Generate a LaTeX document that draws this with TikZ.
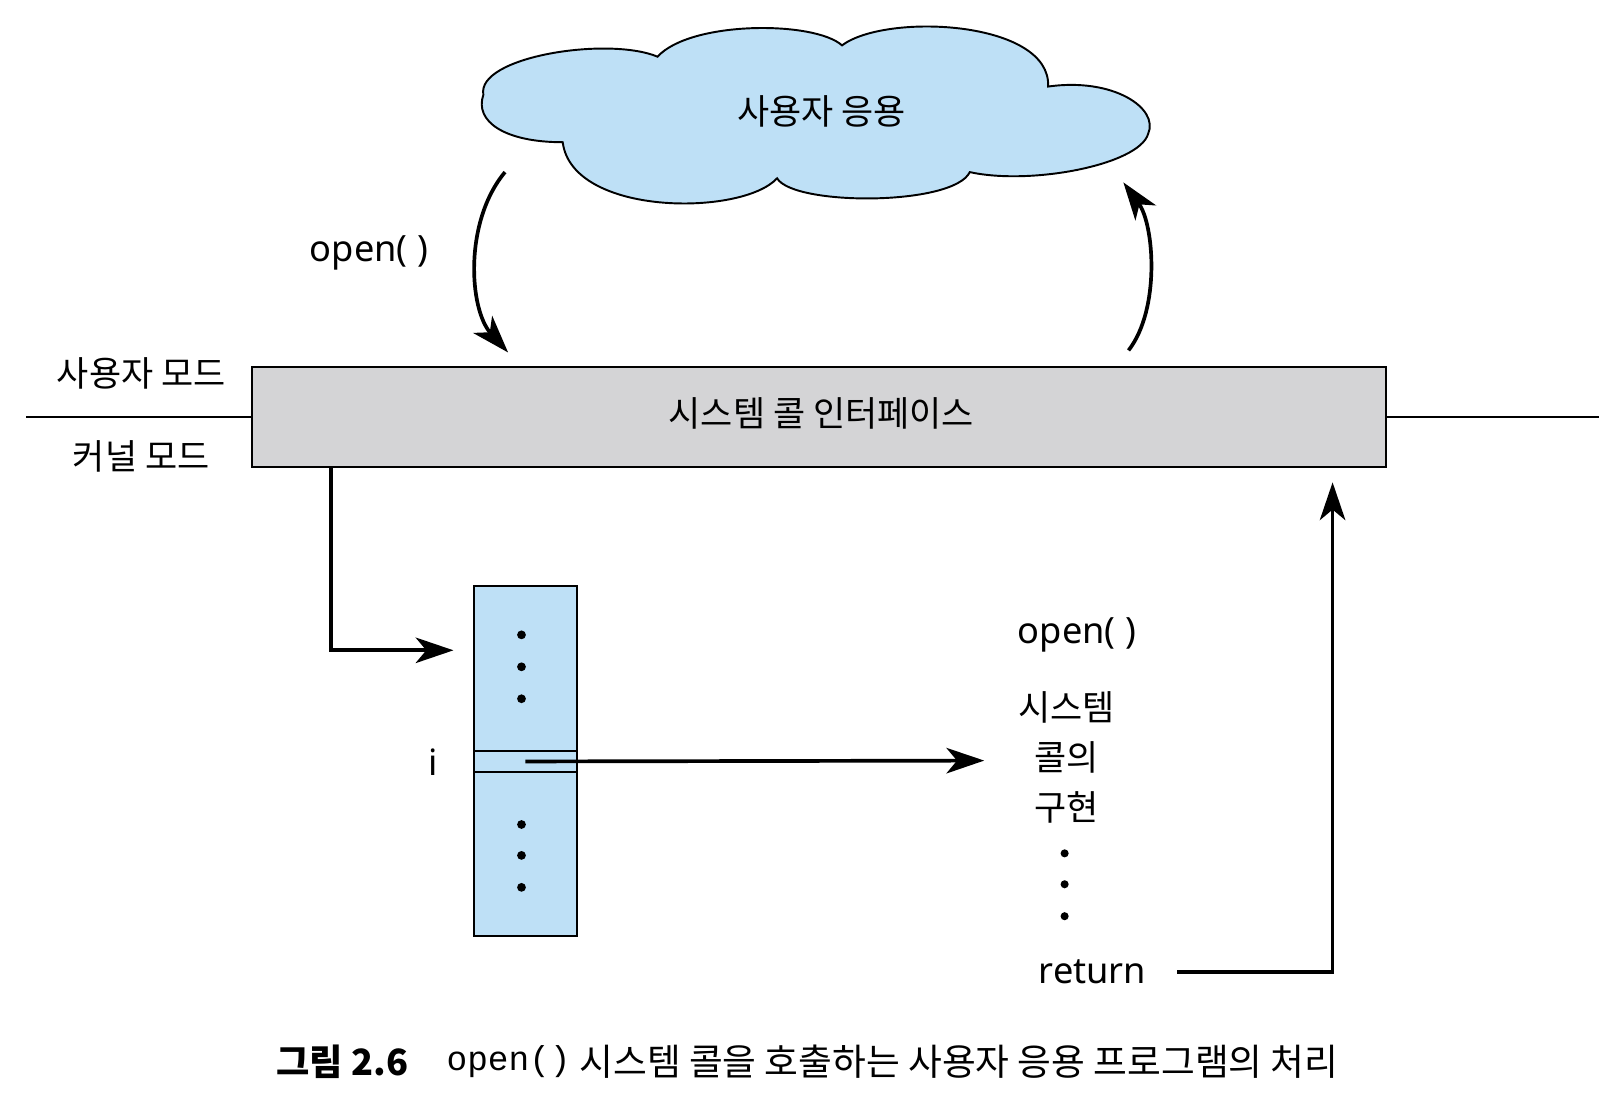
\documentclass[tikz,border=0pt]{standalone}
\usepackage{fontspec}
\setmainfont{Noto Sans}
\newfontfamily\kr{Noto Sans CJK KR}
\newfontfamily\mono{Liberation Mono}
\usetikzlibrary{arrows.meta,calc}
\definecolor{cloudblue}{RGB}{190,224,246}
\definecolor{tblblue}{RGB}{190,224,246}
\definecolor{bargray}{RGB}{212,212,214}
\begin{document}
\begin{tikzpicture}[x=0.020612cm,y=-0.020612cm,
  arr/.style={line width=2.1pt, -{Stealth[length=21.5pt,width=14.5pt,inset=6pt]}},
  thinline/.style={line width=1pt},
  krlab/.style={font=\kr\fontsize{19.9pt}{23pt}\selectfont, inner sep=0pt},
  latlab/.style={font=\fontsize{20.6pt}{24pt}\selectfont, inner sep=0pt},
  dotmark/.style={circle, fill=black, inner sep=0pt, minimum size=5pt}]
\useasboundingbox (0,0) rectangle (1568,1079);
\fill[white] (0,0) rectangle (1568,1079);

% cloud
\draw[fill=cloudblue, line width=1.1pt]
  (469,92) .. controls (462,55) and (590,35) .. (638,55)
  .. controls (670,20) and (790,20) .. (817,44)
  .. controls (860,12) and (1020,20) .. (1017,84)
  .. controls (1080,75) and (1125,105) .. (1114,130)
  .. controls (1105,160) and (1000,180) .. (941,167)
  .. controls (925,200) and (770,200) .. (754,173)
  .. controls (720,210) and (555,210) .. (546,138)
  .. controls (490,138) and (460,118) .. (469,92) -- cycle;
\node[krlab] (app) at (797,108) {사용자 응용};

% system call interface bar
\node[draw, line width=1pt, fill=bargray, minimum width=22.67cm, minimum height=2.0cm,
  anchor=north west, inner sep=0pt] (bar) at (244,355) {};
\node[krlab] (bartext) at (797,401) {시스템 콜 인터페이스};
\draw[thinline] (bar.west) -- ++(-219,0);
\draw[thinline] (bar.east) -- ++(206,0);
\node[krlab] (umode) at (137,362) {사용자 모드};
\node[krlab] (kmode) at (137,443) {커널 모드};

% curved arrows
\coordinate (c1s) at (490,167);
\coordinate (c1e) at (493,342);
\draw[arr] (c1s) .. controls (450,215) and (455,300) .. (c1e);
\node[latlab] (openlab) at (358,245) {open( )};
\coordinate (c2s) at (1095,340);
\coordinate (c2e) at (1090,177);
\draw[arr] (c2s) .. controls (1126,300) and (1120,218) .. (c2e);

% table
\node[draw, line width=1pt, fill=tblblue, minimum width=2.061cm, minimum height=6.988cm,
  anchor=north west, inner sep=0pt] (tbl) at (459,568) {};
\node[draw, line width=1pt, minimum width=2.061cm, minimum height=0.412cm,
  anchor=north west, inner sep=0pt] (row) at (459,728) {};
\foreach \yy in {616,647,678,800,830,861} \node[dotmark] at (506,\yy) {};
\node[latlab] (ilab) at (420,740) {i};
\coordinate (tblin) at (440,631);
\draw[arr] ($(bar.south west)+(77,0)$) |- (tblin);

% implementation
\node[latlab] (open2) at (1045,616) {open( )};
\node[krlab] (impl1) at (1035,686) {시스템};
\node[krlab] (impl2) at (1035,735) {콜의};
\node[krlab] (impl3) at (1035,783) {구현};
\foreach \yy in {828,858,889} \node[dotmark, minimum size=4.6pt] at (1033,\yy) {};
\node[latlab] (ret) at (1060,943) {return};
\coordinate (impl) at (955,738);
\draw[arr] (row.center) -- (impl);
\coordinate (rettip) at (1293,468);
\draw[arr] ($(ret.east)+(30,0)$) -| (rettip);

% caption
\node[font=\kr\bfseries\fontsize{20.6pt}{24pt}\selectfont, inner sep=0pt, anchor=west] (capa) at (268,1030) {그림 2.6};
\node[font=\mono\fontsize{19.6pt}{23pt}\selectfont, inner sep=0pt, anchor=west] (capb) at (433,1030) {open()};
\node[font=\kr\fontsize{20.9pt}{24pt}\selectfont, inner sep=0pt, anchor=west] (capc) at (562,1030) {시스템 콜을 호출하는 사용자 응용 프로그램의 처리};
\end{tikzpicture}
\end{document}
